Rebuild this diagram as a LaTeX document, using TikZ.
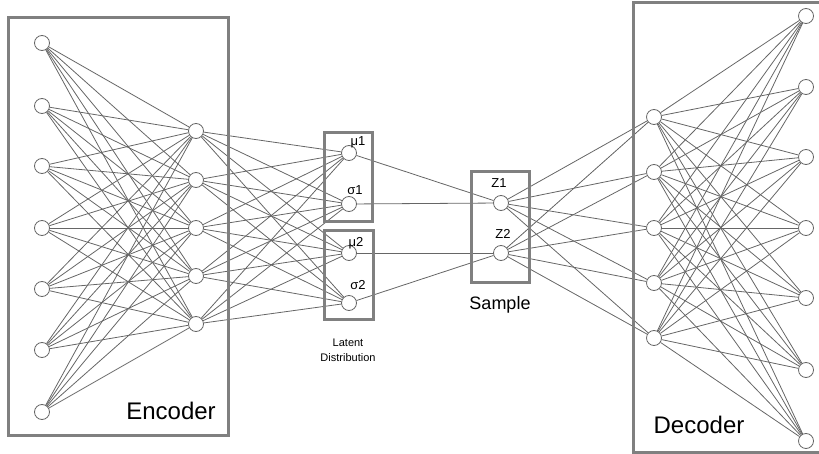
\documentclass[tikz,border=0pt]{standalone}
\usepackage{fontspec}
\setmainfont{Liberation Sans}

\tikzset{
  neuron/.style={circle, draw=black!60, fill=white, minimum size=15pt, inner sep=0pt, line width=0.8pt},
  wire/.style={draw=black!60, line width=0.8pt},
  frame/.style={draw=black!50, line width=3pt},
  tag/.style={inner sep=0pt, font=\fontsize{13}{15}\selectfont},
}

\begin{document}
\begin{tikzpicture}[x=1pt, y=-1pt]
\useasboundingbox (0,0) rectangle (819,454);

% encoder
\foreach \i/\y in {1/43,2/106,3/166,4/228,5/289,6/350,7/412}
  \node[neuron] (in\i) at (42,\y) {};
\foreach \j/\y in {1/131,2/180,3/228,4/276,5/324}
  \node[neuron] (h\j) at (196,\y) {};

% latent distribution
\node[neuron] (mu1) at (349,153) {};
\node[neuron] (sg1) at (349,204) {};
\node[neuron] (mu2) at (349,253) {};
\node[neuron] (sg2) at (349,303) {};
\node[tag] (lmu1) at (358,142) {μ1};
\node[tag] (lsg1) at (355,190) {σ1};
\node[tag] (lmu2) at (356,243) {μ2};
\node[tag] (lsg2) at (358,285) {σ2};

% sample
\node[neuron] (z1) at (501,203) {};
\node[neuron] (z2) at (501,253) {};
\node[tag] (lz1) at (499,183) {Z1};
\node[tag] (lz2) at (503,234) {Z2};

% decoder
\foreach \j/\y in {1/117,2/172,3/228,4/283,5/338}
  \node[neuron] (d\j) at (654,\y) {};
\foreach \i/\y in {1/16,2/87,3/157,4/228,5/298,6/370,7/441}
  \node[neuron] (out\i) at (806,\y) {};

% connections
\foreach \i in {1,...,7}
  \foreach \j in {1,...,5}
    \draw[wire] (in\i) -- (h\j);
\foreach \j in {1,...,5}
  \foreach \k in {mu1,sg1,mu2,sg2}
    \draw[wire] (h\j) -- (\k);
\draw[wire] (mu1) -- (z1);
\draw[wire] (sg1) -- (z1);
\draw[wire] (mu2) -- (z2);
\draw[wire] (sg2) -- (z2);
\foreach \k in {1,2}
  \foreach \j in {1,...,5}
    \draw[wire] (z\k) -- (d\j);
\foreach \j in {1,...,5}
  \foreach \i in {1,...,7}
    \draw[wire] (d\j) -- (out\i);

% boxes
\draw[frame] (8,18) rectangle (228,435);
\draw[frame] (324,133) rectangle (372,222);
\draw[frame] (324,231) rectangle (373,319);
\draw[frame] (471,172) rectangle (529,283);
\draw[frame] (633,3) rectangle (830,452);

% captions
\node[font=\fontsize{24}{28}\selectfont] (enc) at (171,411) {Encoder};
\node[font=\fontsize{24}{28}\selectfont] (dec) at (699,425) {Decoder};
\node[font=\fontsize{18}{21}\selectfont] (smp) at (500,305) {Sample};
\node[align=center, font=\fontsize{11}{15}\selectfont] (lat) at (348,350) {Latent\\Distribution};
\end{tikzpicture}
\end{document}
